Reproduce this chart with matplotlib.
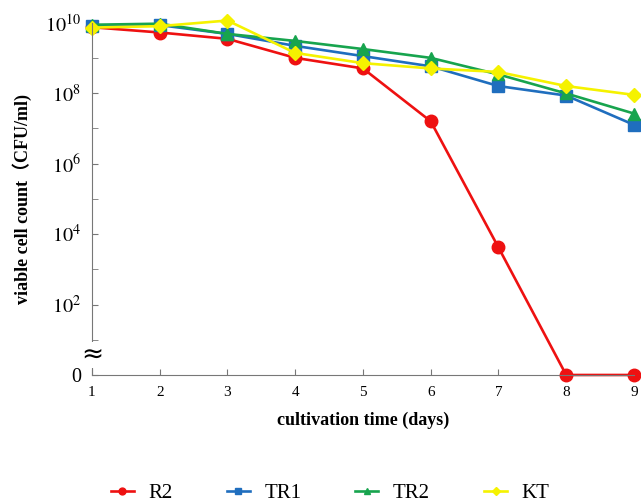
import numpy as np
import matplotlib
matplotlib.use("Agg")
import matplotlib.pyplot as plt

plt.rcParams['font.family'] = ['Liberation Serif', 'Noto Sans CJK SC']
plt.rcParams['mathtext.fontset'] = 'stix'

# log10 of viable cell count, 0 = none detected
days = [1, 2, 3, 4, 5, 6, 7, 8, 9]
r2 = [9.87, 9.72, 9.54, 9.00, 8.70, 7.20, 3.62, 0.0, 0.0]
tr1 = [9.90, 9.93, 9.68, 9.34, 9.05, 8.76, 8.20, 7.93, 7.10]
tr2 = [9.94, 9.97, 9.68, 9.48, 9.25, 9.00, 8.53, 7.99, 7.42]
kt = [9.86, 9.90, 10.06, 9.14, 8.85, 8.70, 8.60, 8.20, 7.95]

ytick_pos = [0, 2, 4, 6, 8, 10]
ytick_lab = ['0', '$10^2$', '$10^4$', '$10^6$', '$10^8$', '$10^{10}$']

fig = plt.figure(figsize=(6.41, 5.03), dpi=100)
ax = fig.add_axes([0.1435, 0.2545, 0.8455, 0.7005])

ax.plot(days, r2, color='#EE1111', lw=1.9, marker='o', ms=9, label='R2')
ax.plot(days, tr1, color='#1F6EBE', lw=1.9, marker='s', ms=8.5, label='TR1')
ax.plot(days, tr2, color='#17A44E', lw=1.9, marker='^', ms=9, label='TR2')
ax.plot(days, kt, color='#F5F200', lw=1.9, marker='D', ms=7.5, label='KT')

ax.set_xlim(1, 9)
ax.set_ylim(0, 10)
ax.set_xticks(days)
ax.set_xticklabels([str(d) for d in days], fontsize=11)
ax.set_yticks(ytick_pos)
ax.set_yticklabels(ytick_lab, fontsize=14.5)
ax.set_yticks([1, 3, 5, 7, 9], minor=True)
for s in ['top', 'right']:
    ax.spines[s].set_visible(False)
for s in ['left', 'bottom']:
    ax.spines[s].set_color('#777777')
ax.tick_params(axis='both', which='both', direction='in', color='#777777', length=4)
ax.tick_params(axis='x', pad=8)
ax.tick_params(axis='y', pad=8)
for c in ax.get_children():
    if hasattr(c, 'set_clip_on'):
        c.set_clip_on(False)

# axis break mark
ax.text(1, 0.57, '≈', fontsize=19, ha='center', va='center',
        bbox=dict(facecolor='white', edgecolor='none', pad=0), zorder=5,
        family=['DejaVu Sans'])

ax.set_xlabel('cultivation time (days)', fontsize=13, fontweight='bold', labelpad=9)
ax.set_ylabel('viable cell count（CFU/ml)', fontsize=13, fontweight='bold', labelpad=9)

fig.legend(loc='lower center', bbox_to_anchor=(0.515, -0.037), ncol=4, frameon=False,
           fontsize=15, markerscale=0.55, handlelength=1.1, handletextpad=0.7,
           columnspacing=2.6)

fig.savefig('out.png', dpi=100)
